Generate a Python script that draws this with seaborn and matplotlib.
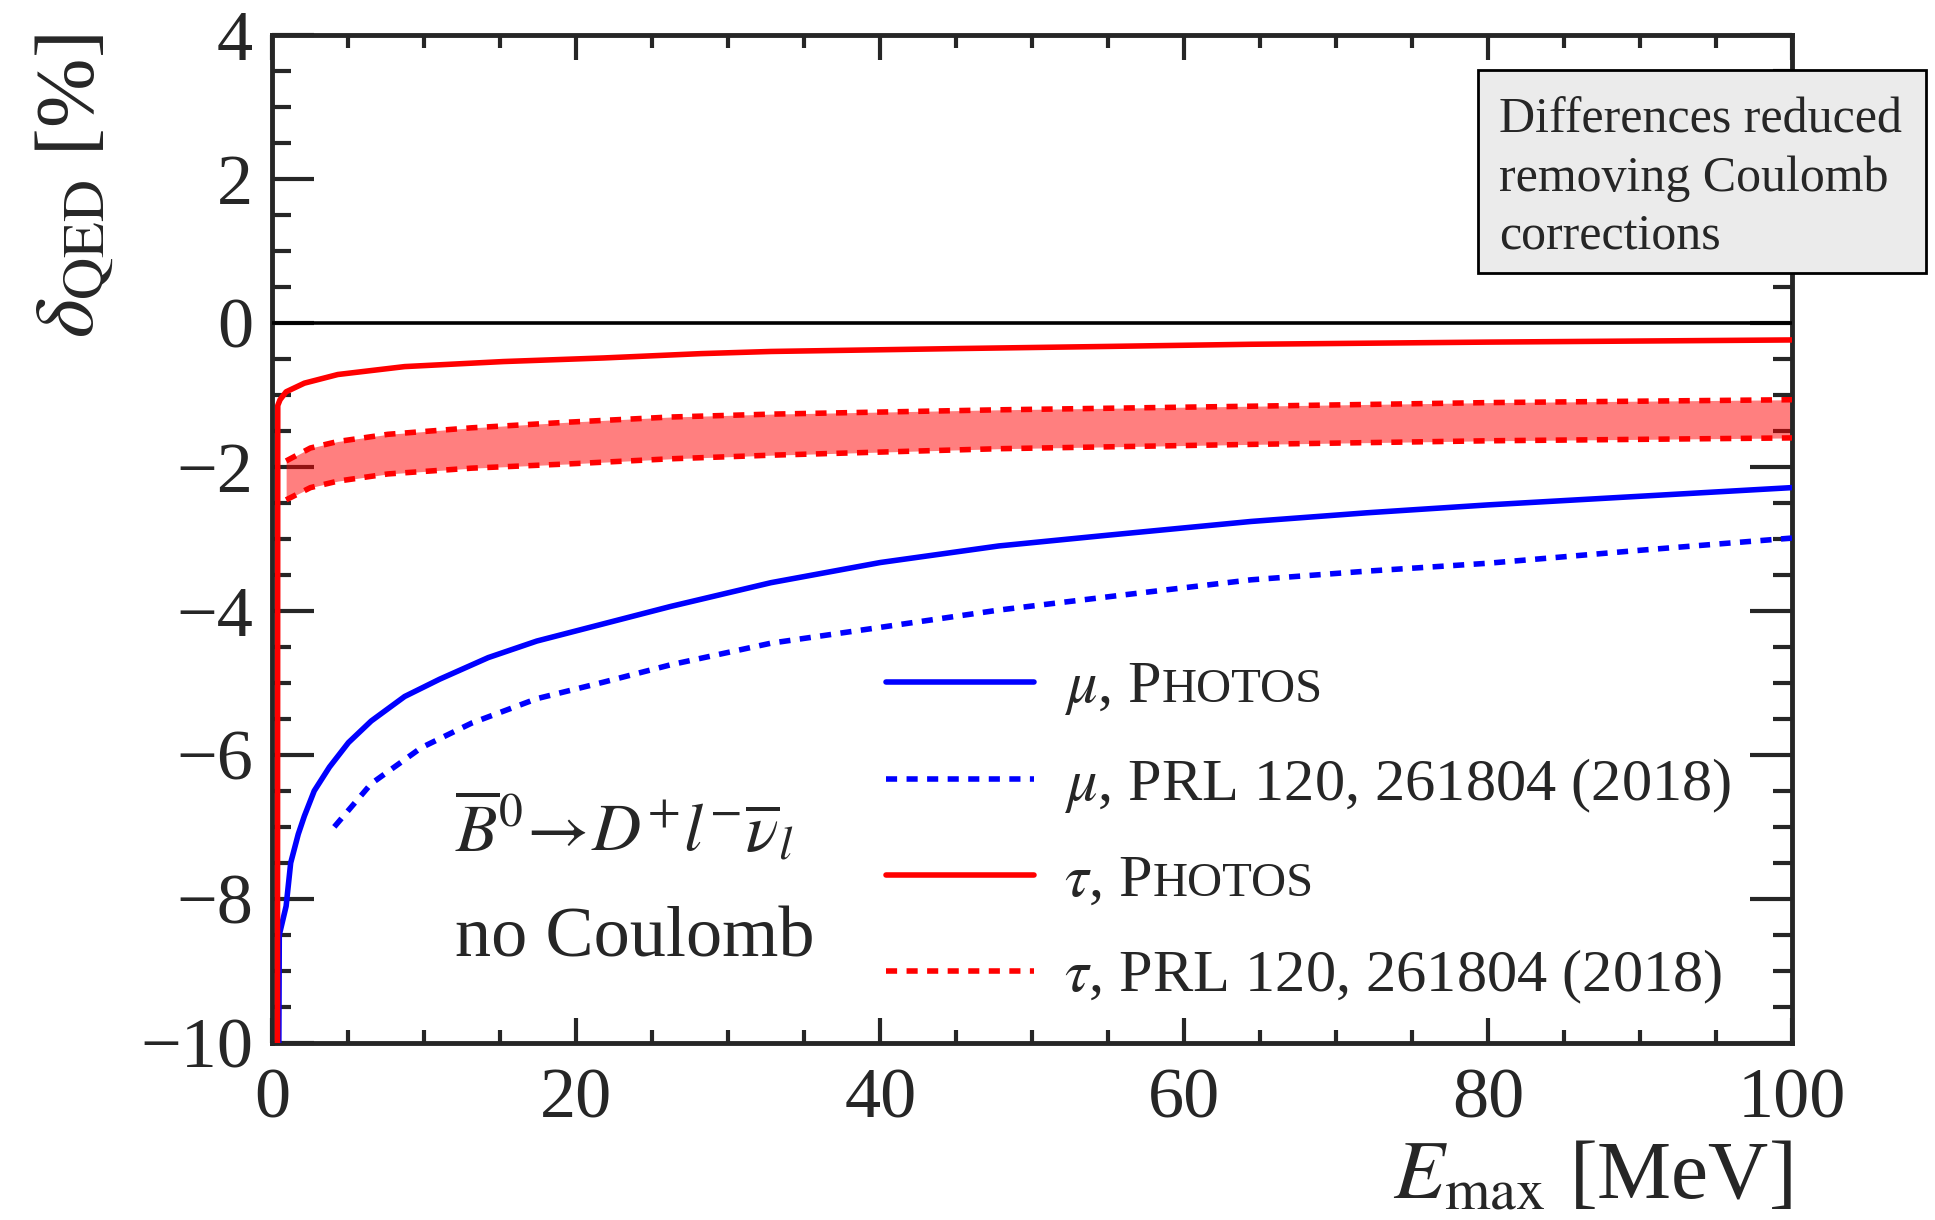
import numpy as np
import pandas as pd
import matplotlib
matplotlib.use("Agg")
import matplotlib.pyplot as plt
import seaborn as sns
from matplotlib.ticker import MultipleLocator
from matplotlib.offsetbox import TextArea, HPacker, VPacker, DrawingArea, AnchoredOffsetbox
from matplotlib.lines import Line2D
from matplotlib.patches import Rectangle

# Curvas (E_max en MeV, delta_QED en %)
tau_photos_x = [0.33, 0.35, 0.5, 0.9, 2.1, 4.3, 8.7, 15.2, 21.8, 28.2, 32.8, 45, 55, 64.4, 80, 100]
tau_photos_y = [-10, -1.15, -1.07, -0.96, -0.84, -0.72, -0.61, -0.54, -0.49, -0.43, -0.40,
                -0.36, -0.33, -0.30, -0.27, -0.24]

mu_photos_x = [0.42, 0.45, 0.9, 1.2, 1.7, 2.1, 2.75, 3.75, 5.0, 6.5, 8.7, 11.0, 14.2, 17.4,
               21.8, 26.2, 32.8, 40, 47.8, 55, 64.4, 72, 80, 90, 100]
mu_photos_y = [-10, -8.5, -8.1, -7.5, -7.1, -6.85, -6.5, -6.17, -5.83, -5.53, -5.19, -4.95,
               -4.65, -4.42, -4.18, -3.94, -3.61, -3.33, -3.10, -2.95, -2.76, -2.64, -2.53,
               -2.41, -2.29]

mu_prl_x = [4.07, 6.5, 9.8, 13.1, 17.4, 21.8, 26.2, 32.8, 40, 47.8, 56, 64.4, 72, 80, 90, 100]
mu_prl_y = [-7.0, -6.4, -5.9, -5.56, -5.22, -4.99, -4.75, -4.45, -4.23, -3.99, -3.78, -3.57,
            -3.45, -3.34, -3.16, -2.99]

band_x = [0.9, 2.5, 4.3, 7.6, 13.1, 19.6, 26.2, 32.8, 47.8, 64.4, 80, 100]
band_hi = [-1.92, -1.74, -1.65, -1.55, -1.46, -1.38, -1.31, -1.27, -1.21, -1.16, -1.11, -1.07]
band_lo = [-2.46, -2.29, -2.20, -2.10, -2.02, -1.96, -1.89, -1.84, -1.75, -1.69, -1.64, -1.60]

leyenda = [
    ("blue", "-", r"$\mu$, P", "HOTOS"),
    ("blue", "--", r"$\mu$, PRL 120, 261804 (2018)", ""),
    ("red", "-", r"$\tau$, P", "HOTOS"),
    ("red", "--", r"$\tau$, PRL 120, 261804 (2018)", ""),
]

caja_texto = "Differences reduced\nremoving Coulomb\ncorrections"

# Estilo
sns.set_style("ticks")
plt.rcParams['font.family'] = ['Liberation Serif', 'DejaVu Serif']
plt.rcParams['mathtext.fontset'] = 'stix'

LW = 4.0
DASH = (0, (2.0, 1.7))

fig = plt.figure(figsize=(19.35, 12.2), dpi=100)
ax = fig.add_axes([0.1408, 0.1451, 0.7853, 0.8266])

# Banda tau PRL
ax.fill_between(band_x, band_lo, band_hi, color="red", alpha=0.5, lw=0, zorder=2)
sns.lineplot(x=band_x, y=band_hi, ax=ax, color="red", lw=LW, linestyle=DASH, zorder=4)
sns.lineplot(x=band_x, y=band_lo, ax=ax, color="red", lw=LW, linestyle=DASH, zorder=4)

sns.lineplot(x=mu_prl_x, y=mu_prl_y, ax=ax, color="blue", lw=LW, linestyle=DASH, zorder=4)
sns.lineplot(x=mu_photos_x, y=mu_photos_y, ax=ax, color="blue", lw=LW, zorder=4,
             estimator=None, sort=False)
sns.lineplot(x=tau_photos_x, y=tau_photos_y, ax=ax, color="red", lw=LW, zorder=5,
             estimator=None, sort=False)

ax.axhline(0, color="black", lw=2.6, zorder=3)

ax.set_xlim(0, 100)
ax.set_ylim(-10, 4)
ax.xaxis.set_major_locator(MultipleLocator(20))
ax.xaxis.set_minor_locator(MultipleLocator(5))
ax.yaxis.set_major_locator(MultipleLocator(2))
ax.yaxis.set_minor_locator(MultipleLocator(0.5))
ax.tick_params(which="both", direction="in", top=True, right=True, width=3, labelsize=52)
ax.tick_params(axis="y", which="major", length=30, pad=14)
ax.tick_params(axis="y", which="minor", length=14)
ax.tick_params(axis="x", which="major", length=18, pad=18)
ax.tick_params(axis="x", which="minor", length=9.5)
for s in ax.spines.values():
    s.set_linewidth(3.5)

ax.set_xlabel(r"$E_{\mathrm{max}}$ [MeV]", fontsize=60, loc="right")
ax.xaxis.set_label_coords(1.0, -0.097)
ax.set_ylabel(r"$\delta_{\mathrm{QED}}$ [%]", fontsize=60, loc="top")
ax.yaxis.set_label_coords(-0.104, 1.0)

ax.text(12, -7.34, r"$\overline{B}^{0}\!\rightarrow\! D^{+}l^{-}\overline{\nu}_{l}$",
        fontsize=49, va="baseline")
ax.text(12, -8.8, "no Coulomb", fontsize=52, va="baseline")

# Leyenda con versalitas para Photos
filas = []
for color, ls, lead, resto in leyenda:
    da = DrawingArea(106, 30, 0, 0)
    da.add_artist(Line2D([0, 106], [15, 15], color=color, lw=LW,
                         linestyle=ls if ls == "-" else DASH))
    partes = [TextArea(lead, textprops=dict(fontsize=43.5))]
    if resto:
        partes.append(TextArea(resto, textprops=dict(fontsize=35)))
    txt = HPacker(children=partes, align="baseline", pad=0, sep=0)
    filas.append(HPacker(children=[da, txt], align="baseline", pad=0, sep=22))
vp = VPacker(children=filas, align="left", pad=0, sep=28)
ab = AnchoredOffsetbox(loc="upper left", child=vp, pad=0, borderpad=0, frameon=False,
                       bbox_to_anchor=(0.404, 0.379), bbox_transform=ax.transAxes)
ax.add_artist(ab)

# Caja de texto (fuera del área de ejes, a la derecha)
fig.patches.append(Rectangle((1478 / 1935, 1 - 273 / 1220), 448 / 1935, 203 / 1220,
                             transform=fig.transFigure, fc="#ebebeb", ec="black", lw=2,
                             zorder=5))
fig.text(0.7747, 0.9206, caja_texto, fontsize=36, ha="left", va="top", linespacing=1.33,
         zorder=6)

fig.savefig("out.png", dpi=100)
